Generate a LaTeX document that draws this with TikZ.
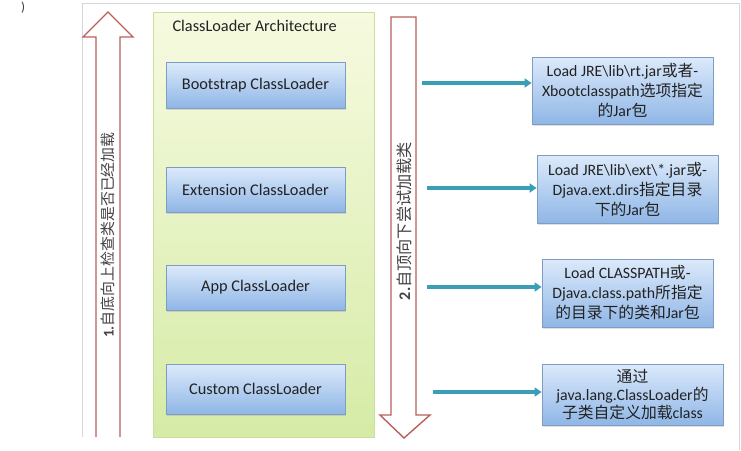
\documentclass[tikz,border=0pt]{standalone}
\usepackage{fontspec}
\setmainfont{Carlito}
\newfontfamily\cjk{Noto Sans CJK SC}
\newcommand{\zh}[1]{{\cjk #1}}
\usetikzlibrary{arrows.meta,shadows}
\definecolor{frameGray}{HTML}{D3D7DE}
\definecolor{arrRed}{HTML}{B9605C}
\definecolor{grnTop}{HTML}{F6FAE0}
\definecolor{grnBot}{HTML}{D6EBA6}
\definecolor{grnLine}{HTML}{C9DFA0}
\definecolor{bluTop}{HTML}{DCEAFB}
\definecolor{bluBot}{HTML}{8FB6E6}
\definecolor{bluLine}{HTML}{7F9CC4}
\definecolor{tealArr}{HTML}{3A9FB6}
\definecolor{txtDark}{HTML}{222222}
\tikzset{
  loaderbox/.style={draw=bluLine, line width=0.8pt, top color=bluTop, bottom color=bluBot,
    drop shadow={shadow xshift=1pt, shadow yshift=-1.5pt, opacity=0.25},
    inner sep=0pt, font=\fontsize{16.3}{18}\selectfont, text=txtDark},
  infobox/.style={draw=bluLine, line width=0.8pt, top color=bluTop, bottom color=bluBot,
    drop shadow={shadow xshift=1pt, shadow yshift=-1.5pt, opacity=0.25},
    inner sep=0pt, align=center, font=\fontsize{15.8}{20}\selectfont, text=txtDark},
  hollowarrow/.style={draw=arrRed, line width=1.4pt, fill=white, line join=miter},
  tealarrow/.style={draw=tealArr, line width=3.4pt, -{Triangle[length=7pt,width=9pt]}},
  sidetext/.style={rotate=90, text=txtDark!85}
}
\begin{document}
\begin{tikzpicture}[x=1pt,y=-1pt]
\useasboundingbox (0,0) rectangle (741,450);
\fill[white] (0,0) rectangle (741,450);
% stray bracket top-left
\node[font=\fontsize{13}{13}\selectfont, text=black!80] (brk) at (23,8) {)};
% outer frame
\draw[frameGray, line width=1pt] (82,437) -- (82,3) -- (739,3) -- (739,450);
% green container
\node[draw=grnLine, line width=0.8pt, top color=grnTop, bottom color=grnBot,
      minimum width=221pt, minimum height=425pt, inner sep=0pt, anchor=north west] (arch) at (153,12) {};
\node[font=\fontsize{16.3}{18}\selectfont, text=txtDark, anchor=west] (title) at (169,26) {ClassLoader Architecture};
% loader boxes
\node[loaderbox, minimum width=179pt, minimum height=46pt] (boot) at (255.5,85) {Bootstrap ClassLoader};
\node[loaderbox, minimum width=179pt, minimum height=45pt] (ext) at (255.5,189.5) {Extension ClassLoader};
\node[loaderbox, minimum width=179pt, minimum height=45pt] (app) at (255.5,287.5) {App ClassLoader};
\node[loaderbox, minimum width=179pt, minimum height=50pt] (cust) at (255.5,389) {Custom ClassLoader};
% left up arrow
\draw[hollowarrow] (96,437) -- (96,37) -- (83,37) -- (108,12) -- (133,37) -- (120,37) -- (120,437);
\node[sidetext, font=\cjk\fontsize{14.9}{16}\selectfont] (uptext) at (108,235) {\textbf{\fontspec{Carlito}1.}自底向上检查类是否已经加载};
% right down arrow
\draw[hollowarrow] (391,17) -- (416,17) -- (416,415) -- (430,415) -- (404,438) -- (380,415) -- (391,415) -- cycle;
\node[sidetext, font=\cjk\fontsize{16.2}{18}\selectfont] (downtext) at (404,221) {\textbf{\fontspec{Carlito}2.}自顶向下尝试加载类};
% info boxes
\node[infobox, minimum width=181pt, minimum height=67pt] (i1) at (622.5,90.5)
  {Load JRE\textbackslash lib\textbackslash rt.jar\zh{或者}-\\Xbootclasspath\zh{选项指定}\\\zh{的}Jar\zh{包}};
\node[infobox, minimum width=181pt, minimum height=68pt] (i2) at (627.5,189)
  {Load JRE\textbackslash lib\textbackslash ext\textbackslash *.jar\zh{或}-\\Djava.ext.dirs\zh{指定目录}\\\zh{下的}Jar\zh{包}};
\node[infobox, minimum width=171pt, minimum height=68pt] (i3) at (627.5,293)
  {Load CLASSPATH\zh{或}-\\Djava.class.path\zh{所指定}\\\zh{的目录下的类和}Jar\zh{包}};
\node[infobox, font=\fontsize{15.8}{18}\selectfont, minimum width=181pt, minimum height=61pt] (i4) at (632.5,394.5)
  {\zh{通过}\\java.lang.ClassLoader\zh{的}\\\zh{子类自定义加载}class};
% teal arrows
\coordinate (s1) at (422,83);
\coordinate (s2) at (427,188);
\coordinate (s3) at (427,287);
\coordinate (s4) at (433,392);
\draw[tealarrow] (s1) -- (s1 -| i1.west);
\draw[tealarrow] (s2) -- (s2 -| i2.west);
\draw[tealarrow] (s3) -- (s3 -| i3.west);
\draw[tealarrow] (s4) -- (s4 -| i4.west);
\end{tikzpicture}
\end{document}
